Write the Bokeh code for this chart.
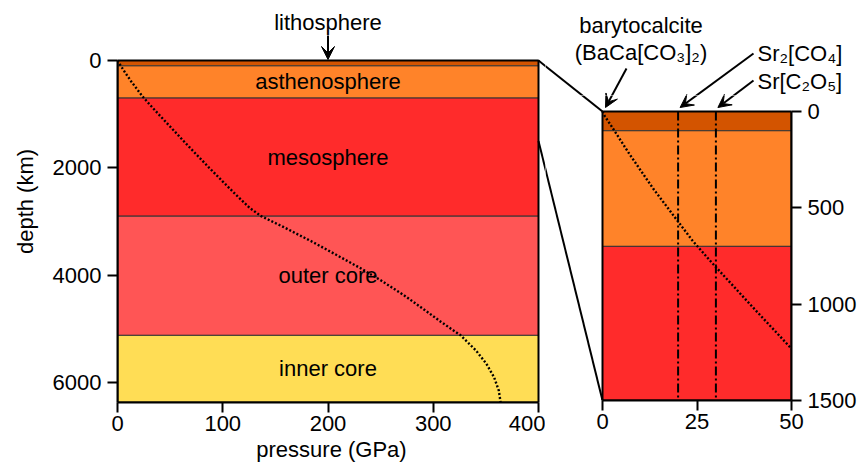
from bokeh.plotting import figure
from bokeh.layouts import row, column
from bokeh.models import Range1d, FixedTicker, Label, Arrow, VeeHead, ColumnDataSource, LinearAxis
from bokeh.core.properties import value
from bokeh.embed import file_html
from bokeh.resources import INLINE

# ---------------- data ----------------
layer_names = ["lithosphere", "asthenosphere", "mesosphere", "outer core", "inner core"]
layer_top_km = [0, 100, 700, 2900, 5120]
layer_bottom_km = [100, 700, 2900, 5120, 6371]

prem_depth_km = [0, 24, 80, 220, 400, 670, 771, 1000, 1250, 1500, 1750, 2000, 2250,
                 2500, 2750, 2900, 3100, 3371, 3600, 3871, 4100, 4371, 4600, 4871,
                 5120, 5400, 5650, 5900, 6150, 6371]
prem_pressure_gpa = [0, 0.6, 2.5, 7.1, 13.4, 23.8, 28.3, 39.0, 50.9, 62.8, 74.9, 87.2, 99.8,
                     112.5, 125.8, 136.5, 157.5, 184.5, 206.0, 231.0, 250.5, 272.0, 288.5, 307.5,
                     326.0, 340.5, 350.5, 357.8, 362.3, 364.0]

phase_names = ["Sr₂[CO₄]", "Sr[C₂O₅]"]
phase_pressure_gpa = [20, 30]
barytocalcite_name = ["barytocalcite", "(BaCa[CO₃]₂)"]
barytocalcite_pressure_gpa = 0

left_x_ticks = [0, 100, 200, 300, 400]
left_y_ticks = [0, 2000, 4000, 6000]
right_x_ticks = [0, 25, 50]
right_y_ticks = [0, 500, 1000, 1500]

EARTH_RADIUS_KM = 6371
MAIN_P_MAX = 400
ZOOM_P_MAX = 50
ZOOM_DEPTH_MAX = 1500

# ---------------- style ----------------
layer_colors = ["#D35400", "#FF8329", "#FF2B2B", "#FF5555", "#FFDD55"]
FONT = "Liberation Sans"
FS = "22px"
DOTS = "2 2"
DOT_W = 2.4
DASHDOT = "9 3 2 3"

# ---------------- layout (pixels) ----------------
W, H = 859, 466
L_X0, L_XMAX = 117, 538
L_Y0, L_YMAX = 60, 402
SPLIT = 545      # x where left figure ends
SPLIT_Y = 95     # y where the annotation strip above the zoom panel ends
R_X0, R_XMAX = 602, 791
R_Y0, R_YMAX = 111, 400

sx1 = (L_XMAX - L_X0) / MAIN_P_MAX
sy1 = (L_YMAX - L_Y0) / EARTH_RADIUS_KM
sx2 = (R_XMAX - R_X0) / ZOOM_P_MAX
sy2 = (R_YMAX - R_Y0) / ZOOM_DEPTH_MAX

LEFT_MAP = (L_X0, sx1, L_Y0, sy1)
ZOOM_MAP = (R_X0, sx2, R_Y0, sy2)


def to_px(m, x, y):
    return m[0] + x * m[1], m[2] + y * m[3]


def from_px(m, px, py):
    return (px - m[0]) / m[1], (py - m[2]) / m[3]


def make_fig(x_range, y_range, fw, fh, mbl, mbr, mbt, mbb):
    p = figure(x_range=x_range, y_range=y_range, frame_width=fw, frame_height=fh,
               min_border_left=mbl, min_border_right=mbr, min_border_top=mbt,
               min_border_bottom=mbb, output_backend="svg", toolbar_location=None,
               x_axis_location=None, y_axis_location=None)
    p.xgrid.visible = False
    p.ygrid.visible = False
    p.outline_line_color = None
    p.background_fill_color = "white"
    p.border_fill_color = "white"
    return p


def style_axis(ax, ticks, bounds, label=None):
    ax.ticker = FixedTicker(ticks=ticks)
    ax.bounds = bounds
    ax.axis_line_width = 2
    ax.axis_line_color = "black"
    ax.major_tick_line_width = 2
    ax.major_tick_line_color = "black"
    ax.major_tick_out = 10
    ax.major_tick_in = 0
    ax.minor_tick_line_color = None
    ax.major_label_text_font = FONT
    ax.major_label_text_font_size = FS
    ax.major_label_text_color = "black"
    if label:
        ax.axis_label = label
        ax.axis_label_text_font = FONT
        ax.axis_label_text_font_size = FS
        ax.axis_label_text_font_style = "normal"
        ax.axis_label_text_color = "black"


def add_label(p, m, px, py, text, align):
    x, y = from_px(m, px, py)
    p.add_layout(Label(x=x, y=y, text=text, text_align=align, text_baseline="middle",
                       text_font=FONT, text_font_size=FS, text_color="black"))


def add_arrow(figs, m, p0, p1):
    x0, y0 = from_px(m, *p0)
    x1, y1 = from_px(m, *p1)
    for p in figs:
        p.add_layout(Arrow(end=VeeHead(size=13, fill_color="black", line_color="black"),
                           x_start=x0, y_start=y0, x_end=x1, y_end=y1,
                           line_width=2, line_color="black"))


# ---------------- left (whole Earth) ----------------
left = make_fig(Range1d(0, (SPLIT - L_X0) / sx1),
                Range1d(EARTH_RADIUS_KM, -L_Y0 / sy1),
                SPLIT - L_X0, L_YMAX, L_X0, 0, 0, H - L_YMAX)

n = len(layer_names)
layers = ColumnDataSource(dict(top=layer_top_km, bottom=layer_bottom_km,
                               color=layer_colors, left=[0] * n, right=[MAIN_P_MAX] * n))
left.quad(left="left", right="right", top="top", bottom="bottom", fill_color="color",
          line_color="#333333", line_width=1, source=layers)
left.quad(left=[0], right=[MAIN_P_MAX], top=[0], bottom=[EARTH_RADIUS_KM],
          fill_color=None, line_color="black", line_width=2)

mids = [(a + b) / 2 for a, b in zip(layer_top_km, layer_bottom_km)]
lab_src = ColumnDataSource(dict(x=[MAIN_P_MAX / 2] * (n - 1), y=mids[1:], t=layer_names[1:]))
left.text(x="x", y="y", text="t", source=lab_src, text_align="center", text_baseline="middle",
          text_font=value(FONT), text_font_size=FS, text_color="black")

left.line(prem_pressure_gpa, prem_depth_km, line_color="black", line_width=DOT_W, line_dash=DOTS)

lx, _ = to_px(LEFT_MAP, MAIN_P_MAX / 2, 0)
add_label(left, LEFT_MAP, lx, 22, layer_names[0], "center")
add_arrow([left], LEFT_MAP, (lx, 35), (lx, 59))

ax = LinearAxis()
style_axis(ax, left_x_ticks, (0, MAIN_P_MAX), "pressure (GPa)")
ax.major_label_standoff = 3
ax.axis_label_standoff = 3
left.add_layout(ax, "below")
ay = LinearAxis()
style_axis(ay, left_y_ticks, (0, EARTH_RADIUS_KM), "depth (km)")
ay.major_label_standoff = 6
ay.axis_label_standoff = 12
left.add_layout(ay, "left")

# ---------------- annotation strip above the zoom panel ----------------
top = make_fig(Range1d((SPLIT - R_X0) / sx2, (W - R_X0) / sx2),
               Range1d((SPLIT_Y - R_Y0) / sy2, -R_Y0 / sy2),
               W - SPLIT, SPLIT_Y, 0, 0, 0, 0)

# ---------------- zoom panel ----------------
right = make_fig(Range1d((SPLIT - R_X0) / sx2, ZOOM_P_MAX),
                 Range1d(ZOOM_DEPTH_MAX, (SPLIT_Y - R_Y0) / sy2),
                 R_XMAX - SPLIT, R_YMAX - SPLIT_Y, 0, W - R_XMAX, 0, H - R_YMAX)

add_label(top, ZOOM_MAP, 640.5, 25, barytocalcite_name[0], "center")
add_label(top, ZOOM_MAP, 640.5, 52, barytocalcite_name[1], "center")
add_label(top, ZOOM_MAP, 757, 53, phase_names[0], "left")
add_label(top, ZOOM_MAP, 757, 81, phase_names[1], "left")
bx0, by0 = to_px(ZOOM_MAP, barytocalcite_pressure_gpa, 0)
add_arrow([top, right], ZOOM_MAP, (626, 68), (bx0 + 3, by0 - 4))
for i, yy in enumerate([53, 80]):
    tx, ty = to_px(ZOOM_MAP, phase_pressure_gpa[i], 0)
    add_arrow([top, right], ZOOM_MAP, (753, yy), (tx + 2, ty - 4))

zl = [i for i, t in enumerate(layer_top_km) if t < ZOOM_DEPTH_MAX]
zsrc = ColumnDataSource(dict(top=[layer_top_km[i] for i in zl],
                             bottom=[min(layer_bottom_km[i], ZOOM_DEPTH_MAX) for i in zl],
                             color=[layer_colors[i] for i in zl],
                             left=[0] * len(zl), right=[ZOOM_P_MAX] * len(zl)))
right.quad(left="left", right="right", top="top", bottom="bottom", fill_color="color",
           line_color="#333333", line_width=1, source=zsrc)
right.quad(left=[0], right=[ZOOM_P_MAX], top=[0], bottom=[ZOOM_DEPTH_MAX],
           fill_color=None, line_color="black", line_width=2)
right.segment(x0=phase_pressure_gpa, x1=phase_pressure_gpa, y0=[0] * len(phase_pressure_gpa),
              y1=[ZOOM_DEPTH_MAX] * len(phase_pressure_gpa), line_color="black",
              line_width=2, line_dash=DASHDOT)
right.line(prem_pressure_gpa, prem_depth_km, line_color="black", line_width=DOT_W, line_dash=DOTS)

bx = LinearAxis()
style_axis(bx, right_x_ticks, (0, ZOOM_P_MAX))
bx.major_label_standoff = 3
right.add_layout(bx, "below")
by = LinearAxis()
style_axis(by, right_y_ticks, (0, ZOOM_DEPTH_MAX))
by.major_label_standoff = 6
right.add_layout(by, "right")

# ---------------- zoom connectors (drawn in every figure, clipped to each frame) ----------------
for d in [0, ZOOM_DEPTH_MAX]:
    a = to_px(LEFT_MAP, MAIN_P_MAX, d)
    b = to_px(ZOOM_MAP, 0, d)
    for p, m in [(left, LEFT_MAP), (top, ZOOM_MAP), (right, ZOOM_MAP)]:
        da, db = from_px(m, *a), from_px(m, *b)
        p.line([da[0], db[0]], [da[1], db[1]], line_color="black", line_width=2)

layout = row(left, column(top, right, spacing=0), spacing=0)
open("out.html", "w").write(file_html(layout, INLINE))
